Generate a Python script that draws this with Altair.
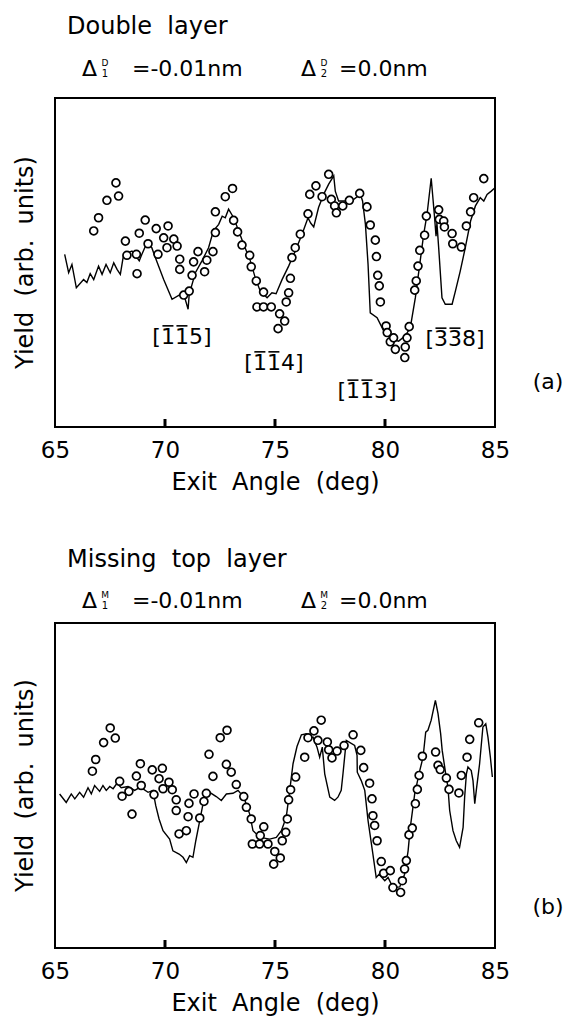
import altair as alt
import pandas as pd

# ---------------- data ----------------
x_tick_values = [65, 70, 75, 80, 85]
inner_ticks = [70, 75, 80]

# (a) Double layer: measured yield (circles)
top_exp_x = [66.76, 66.98, 67.36, 67.77, 67.89, 68.2, 68.27, 68.7, 68.73, 68.83, 69.1, 69.23, 69.6, 69.68,
             69.94, 70.09, 70.14, 70.4, 70.55, 70.67, 70.67, 70.85, 71.1, 71.23, 71.3, 71.5, 71.8, 71.9,
             72.18, 72.29, 72.29, 72.74, 73.07, 73.12, 73.3, 73.5, 73.85, 73.92, 74.15, 74.48, 74.18, 74.48,
             74.83, 75.21, 75.44, 75.14, 75.51, 75.62, 75.7, 75.77, 75.92, 76.15, 76.5, 76.58, 76.86, 77.14,
             77.44, 77.56, 77.71, 77.79, 78.08, 78.38, 78.85, 79.18, 79.33, 79.56, 79.61, 79.67, 79.74, 79.79,
             80.05, 80.1, 80.24, 80.39, 80.47, 80.9, 80.92, 81.0, 81.1, 81.35, 81.42, 81.5, 81.58, 81.8,
             81.88, 82.44, 82.47, 82.67, 82.7, 83.05, 83.08, 83.47, 83.7, 83.89, 84.03, 84.49]
top_exp_y = [59.6, 63.6, 68.9, 74.2, 70.2, 56.5, 52.2, 52.5, 46.6, 58.9, 62.9, 55.7, 60.3, 52.5,
             57.5, 54.5, 61.1, 57.1, 55.0, 51.0, 47.9, 40.1, 41.3, 46.1, 50.2, 53.3, 47.2, 50.7,
             53.3, 59.1, 65.4, 70.0, 72.5, 62.8, 59.3, 55.3, 52.2, 48.7, 44.4, 41.0, 36.5, 36.5,
             36.5, 34.4, 32.2, 29.9, 38.0, 40.8, 45.2, 51.5, 54.5, 58.6, 64.8, 70.7, 73.3, 70.0,
             76.8, 69.2, 67.2, 65.1, 67.2, 68.9, 71.0, 66.9, 61.4, 56.8, 51.8, 46.1, 42.9, 38.0,
             30.7, 28.7, 25.9, 27.1, 23.6, 21.1, 24.3, 27.1, 30.5, 41.6, 44.4, 48.9, 53.7, 58.3,
             64.1, 66.0, 63.1, 62.6, 60.8, 58.8, 55.7, 54.7, 61.1, 65.4, 69.7, 75.5]

# (a) calculated curve
top_calc_x = [65.44, 65.62, 65.77, 65.97, 66.3, 66.45, 66.6, 66.76, 66.98, 67.14, 67.32, 67.51, 67.67, 67.82,
              67.97, 68.12, 68.5, 68.83, 68.95, 69.18, 69.4, 69.56, 69.94, 70.32, 70.7, 70.92, 71.05, 71.1,
              71.38, 71.68, 71.98, 72.2, 72.44, 72.6, 72.74, 72.89, 73.12, 73.35, 73.58, 73.88, 74.1, 74.33,
              74.64, 74.86, 75.05, 75.32, 75.62, 75.92, 76.23, 76.5, 76.62, 76.76, 76.98, 77.21, 77.44, 77.67,
              77.74, 77.89, 78.27, 78.58, 78.88, 78.98, 79.11, 79.23, 79.33, 79.64, 79.94, 80.32, 80.62, 80.92,
              81.15, 81.38, 81.6, 81.76, 81.91, 82.1, 82.25, 82.32, 82.36, 82.44, 82.59, 82.74, 83.05, 83.2,
              83.42, 83.65, 83.89, 84.11, 84.33, 84.49, 84.64, 84.83, 85.0]
top_calc_y = [52.5, 46.9, 49.4, 42.3, 44.8, 43.9, 46.6, 44.8, 48.9, 46.4, 49.4, 46.9, 49.9, 47.9,
              46.4, 52.5, 53.5, 50.5, 52.5, 56.0, 54.5, 51.5, 44.8, 38.8, 40.3, 38.8, 35.8, 40.3,
              46.9, 50.5, 54.5, 59.6, 61.6, 64.1, 63.6, 66.2, 63.6, 59.6, 55.5, 50.5, 45.4, 41.3,
              39.3, 40.8, 40.5, 44.8, 48.9, 53.5, 58.6, 63.6, 62.0, 60.8, 66.7, 70.7, 73.8, 76.3,
              71.7, 68.7, 68.7, 69.2, 70.7, 68.7, 61.6, 49.4, 34.7, 33.2, 29.2, 26.6, 26.1, 27.7,
              30.2, 39.3, 50.5, 58.6, 64.6, 75.6, 64.0, 58.0, 62.0, 54.5, 39.3, 37.3, 37.3, 41.3,
              47.4, 54.5, 62.6, 67.2, 69.7, 68.7, 70.7, 71.7, 72.7]

# (b) Missing top layer: measured yield (circles)
bot_exp_x = [66.7, 66.85, 67.21, 67.51, 67.74, 67.94, 68.05, 68.36, 68.5, 68.7, 68.88, 68.92, 69.42, 69.5,
             69.73, 69.88, 69.91, 70.18, 70.33, 70.51, 70.51, 70.64, 70.97, 71.05, 71.09, 71.32, 71.58, 71.77,
             71.88, 72.0, 72.18, 72.51, 72.79, 72.82, 73.01, 73.24, 73.58, 73.7, 73.92, 73.97, 74.3, 74.33,
             74.49, 74.68, 74.94, 74.99, 75.24, 75.33, 75.49, 75.56, 75.62, 75.71, 75.94, 76.35, 76.5, 76.77,
             76.95, 77.1, 77.38, 77.44, 77.59, 77.82, 78.14, 78.55, 78.9, 79.03, 79.3, 79.41, 79.45, 79.53,
             79.64, 79.83, 79.94, 80.24, 80.36, 80.71, 80.79, 80.89, 80.97, 81.09, 81.24, 81.38, 81.47, 81.55,
             81.7, 82.3, 82.41, 82.51, 82.79, 82.91, 83.36, 83.47, 83.73, 83.85, 84.26]
bot_exp_y = [54.4, 58.0, 63.2, 67.7, 64.6, 51.3, 46.7, 48.2, 41.2, 52.9, 56.7, 50.0, 54.8, 47.2,
             52.1, 55.3, 49.0, 51.0, 48.7, 45.6, 42.3, 35.1, 36.1, 40.4, 44.5, 47.4, 40.0, 45.1,
             47.6, 59.6, 52.8, 64.7, 56.5, 67.0, 54.1, 50.3, 46.6, 43.3, 39.7, 32.0, 32.0, 34.6,
             37.3, 32.0, 25.8, 29.7, 27.7, 33.0, 35.6, 39.7, 45.6, 48.7, 52.6, 58.7, 64.7, 66.8,
             63.9, 70.1, 63.4, 61.0, 58.5, 60.6, 62.3, 65.6, 60.8, 55.5, 50.7, 45.9, 40.7, 37.7,
             33.0, 26.6, 23.0, 23.8, 18.6, 17.1, 20.7, 24.3, 26.9, 34.8, 36.9, 44.4, 48.8, 53.1,
             59.0, 60.3, 56.2, 54.9, 52.3, 48.8, 47.7, 53.1, 58.7, 64.2, 69.3]

# (b) calculated curve
bot_calc_x = [65.21, 65.51, 65.74, 65.9, 66.12, 66.3, 66.5, 66.65, 66.8, 67.03, 67.18, 67.33, 67.49, 67.64,
              67.82, 68.01, 68.32, 68.62, 68.88, 69.23, 69.45, 69.58, 69.73, 69.91, 70.21, 70.36, 70.64, 70.82,
              70.97, 71.12, 71.27, 71.4, 71.58, 71.73, 71.85, 72.03, 72.33, 72.56, 72.79, 73.09, 73.32, 73.58,
              73.85, 74.0, 74.23, 74.45, 74.76, 75.06, 75.29, 75.51, 75.67, 75.82, 76.0, 76.2, 76.42, 76.58,
              76.73, 76.91, 77.03, 77.15, 77.26, 77.49, 77.71, 77.86, 78.01, 78.09, 78.24, 78.62, 78.73, 78.74,
              78.92, 79.08, 79.23, 79.45, 79.6, 79.73, 79.99, 80.14, 80.36, 80.67, 80.89, 81.05, 81.15, 81.35,
              81.58, 81.73, 81.85, 81.95, 82.1, 82.29, 82.41, 82.53, 82.6, 82.76, 82.86, 82.94, 83.09, 83.24,
              83.39, 83.55, 83.62, 83.7, 83.77, 83.92, 84.0, 84.08, 84.15, 84.3, 84.45, 84.58, 84.68, 84.79,
              84.88]
bot_calc_y = [47.4, 44.8, 47.4, 45.9, 47.9, 46.4, 49.3, 47.4, 50.0, 48.2, 50.0, 48.5, 49.7, 49.0,
              50.7, 49.3, 49.7, 48.5, 49.5, 47.9, 48.5, 43.8, 39.7, 36.1, 33.5, 29.9, 28.9, 27.9,
              26.3, 28.4, 27.9, 33.0, 39.2, 44.4, 47.4, 47.9, 46.6, 45.4, 47.4, 47.6, 48.5, 46.4,
              41.2, 36.1, 34.6, 33.9, 33.5, 34.0, 36.1, 40.2, 48.5, 56.7, 62.0, 65.6, 65.9, 64.5,
              64.9, 61.8, 58.7, 61.8, 53.6, 46.4, 45.4, 46.4, 48.5, 53.6, 63.9, 62.3, 59.3, 54.1,
              51.5, 48.5, 39.2, 28.9, 21.7, 22.7, 20.7, 21.7, 18.6, 18.8, 22.7, 29.9, 37.1, 47.4,
              54.6, 58.7, 66.4, 67.0, 70.1, 76.2, 72.1, 65.9, 60.8, 53.6, 49.5, 42.3, 36.1, 33.0,
              31.0, 37.1, 46.4, 53.6, 55.7, 54.6, 51.5, 44.4, 48.5, 56.7, 68.0, 69.0, 64.9, 58.7,
              52.6]

# Miller-index labels of panel (a); the first two digits carry an overbar (negative indices)
miller_text = ["[115]", "[114]", "[113]", "[338]"]
miller_x = [70.77, 74.95, 79.18, 83.18]
miller_y = [27.4, 19.5, 10.9, 26.7]

FONT = "DejaVu Sans"
NB = "\u00a0"


def txt(s, x, y, size, align="left", baseline="alphabetic", angle=None):
    kw = dict(font=FONT, fontSize=size, align=align, baseline=baseline, color="black")
    if angle is not None:
        kw["angle"] = angle
    return alt.Chart(pd.DataFrame({"t": [s]})).mark_text(**kw).encode(
        text="t:N", x=alt.value(x), y=alt.value(y))


def panel(exp_x, exp_y, calc_x, calc_y, h, title, sup, tag, title_base, delta_base, show_miller):
    xs = alt.Scale(domain=[65, 85], nice=False, zero=False)
    ys = alt.Scale(domain=[0, 100], nice=False, zero=False)
    xaxis = alt.Axis(values=x_tick_values, title="Exit" + NB + " Angle" + NB + " (deg)", ticks=False, tickSize=0,
                     domain=False, grid=False, labelFontSize=23, labelPadding=12,
                     titleFontSize=24, titleFontWeight="normal", titlePadding=8,
                     labelColor="black", titleColor="black", labelFont=FONT, titleFont=FONT,
                     labelFlush=False, format="d")
    exp = pd.DataFrame({"x": exp_x, "y": exp_y})
    calc = pd.DataFrame({"x": calc_x, "y": calc_y})
    line = alt.Chart(calc).mark_line(color="black", strokeWidth=1.4).encode(
        x=alt.X("x:Q", scale=xs, axis=xaxis), y=alt.Y("y:Q", scale=ys, axis=None))
    pts = alt.Chart(exp).mark_point(shape="circle", filled=True, fill="white", stroke="black",
                                    strokeWidth=1.7, size=62, opacity=1).encode(
        x=alt.X("x:Q", scale=xs), y=alt.Y("y:Q", scale=ys))
    # inward tick marks on the bottom frame (clipped to the plot area)
    ticks = alt.Chart(pd.DataFrame({"tx": inner_ticks, "ty": [0, 0, 0]})).mark_tick(
        orient="vertical", color="black", thickness=3, size=16, opacity=1, clip=True).encode(
        x=alt.X("tx:Q", scale=xs), y=alt.Y("ty:Q", scale=ys))
    layers = [line, pts, ticks]
    if show_miller:
        mdf = pd.DataFrame({"t": miller_text, "x": miller_x, "y": miller_y})
        layers.append(alt.Chart(mdf).mark_text(font=FONT, fontSize=22, color="black",
                                               baseline="middle").encode(
            x=alt.X("x:Q", scale=xs), y=alt.Y("y:Q", scale=ys), text="t:N"))
        for off in (-14, 0):
            layers.append(alt.Chart(mdf).mark_tick(orient="horizontal", color="black", thickness=1.6,
                                                   size=11, opacity=1, xOffset=off, yOffset=-11).encode(
                x=alt.X("x:Q", scale=xs), y=alt.Y("y:Q", scale=ys)))
    # titles and parameters above the frame
    layers += [
        txt(title, 12, title_base, 24),
        txt("\u0394", 27, delta_base, 22),
        txt(sup, 50, delta_base - 10, 9, align="center"),
        txt("1", 50, delta_base + 1, 10, align="center"),
        txt("=-0.01nm", 77, delta_base, 22),
        txt("\u0394", 246, delta_base, 22),
        txt(sup, 269, delta_base - 10, 9, align="center"),
        txt("2", 269, delta_base + 1, 10, align="center"),
        txt("=0.0nm", 284, delta_base, 22),
        txt("Yield" + NB + " (arb." + NB + " units)", -29, h / 2, 24, align="center", baseline="middle", angle=270),
        txt(tag, 493, 284, 22, align="center", baseline="middle"),
    ]
    return alt.layer(*layers).properties(width=440, height=h)


top = panel(top_exp_x, top_exp_y, top_calc_x, top_calc_y, 329, "Double" + NB + " layer", "D", "(a)", -64, -22, True)
bottom = panel(bot_exp_x, bot_exp_y, bot_calc_x, bot_calc_y, 325, "Missing" + NB + " top" + NB + " layer", "M", "(b)", -56, -15, False)

chart = alt.vconcat(top, bottom, spacing=196, bounds="flush").properties(
    padding={"left": 12, "top": 14, "right": 5, "bottom": 0},
    background="white",
).configure_view(stroke="black", strokeWidth=2)

chart.save("out.html", embed_options={"renderer": "svg", "actions": False})
